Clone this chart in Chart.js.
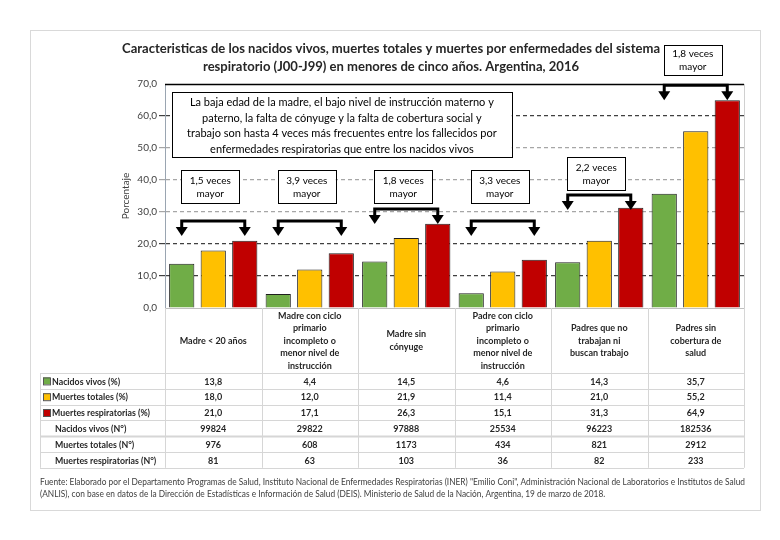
<!DOCTYPE html>
<html>
<head>
<meta charset="utf-8">
<script src="https://cdn.jsdelivr.net/npm/chart.js@4.4.1/dist/chart.umd.min.js"></script>
<style>
  html, body { margin: 0; padding: 0; background: #fff; }
  #wrap { width: 780px; height: 540px; }
</style>
</head>
<body>
<div id="wrap"><canvas id="chart" width="780" height="540"></canvas></div>
<script>
// categories (table header, multi-line)
const categories = [
    ['Madre < 20 años'],
    ['Madre con ciclo', 'primario', 'incompleto o', 'menor nivel de', 'instrucción'],
    ['Madre sin', 'cónyuge'],
    ['Padre con ciclo', 'primario', 'incompleto o', 'menor nivel de', 'instrucción'],
    ['Padres que no', 'trabajan ni', 'buscan trabajo'],
    ['Padres sin', 'cobertura de', 'salud']
];

// percentages
const nacidosPct = [13.8, 4.4, 14.5, 4.6, 14.3, 35.7];
const muertesPct = [18.0, 12.0, 21.9, 11.4, 21.0, 55.2];
const respPct = [21.0, 17.1, 26.3, 15.1, 31.3, 64.9];

// absolute numbers
const nacidosN = [99824, 29822, 97888, 25534, 96223, 182536];
const muertesN = [976, 608, 1173, 434, 821, 2912];
const respN = [81, 63, 103, 36, 82, 233];

const yTicks = [0, 10, 20, 30, 40, 50, 60, 70];

// "x veces mayor" labels, one per category
const ratios = ['1,5', '3,9', '1,8', '3,3', '2,2', '1,8'];

const titleLines = [
    'Caracteristicas de los nacidos vivos, muertes totales y muertes por enfermedades del sistema',
    'respiratorio (J00-J99) en menores de cinco años. Argentina, 2016'
];
const noteLines = [
    'La baja edad de la madre, el bajo nivel de instrucción materno y',
    'paterno, la falta de cónyuge y la falta de cobertura social y',
    'trabajo son hasta 4 veces más frecuentes entre los fallecidos por',
    'enfermedades respiratorias que entre los nacidos vivos'
];
const sourceLines = [
    'Fuente: Elaborado por el Departamento Programas de Salud, Instituto Nacional de Enfermedades Respiratorias (INER) "Emilio Coni", Administración Nacional de Laboratorios e Institutos de Salud',
    '(ANLIS), con base en datos de la Dirección de Estadísticas e Información de Salud (DEIS). Ministerio de Salud de la Nación, Argentina, 19 de marzo de 2018.'
];

const GREEN = '#70AD47', YELLOW = '#FFC000', RED = '#C00000';
const FONT = 'Lato, "Open Sans", sans-serif';

function fmt(v) {
    return v.toFixed(1).replace('.', ',');
}

// text squeezed horizontally by sx
function squish(ctx, text, x, y, sx, align) {
    ctx.save();
    ctx.translate(x, y);
    ctx.scale(sx, 1);
    ctx.textAlign = align || 'center';
    ctx.fillText(text, 0, 0);
    ctx.restore();
}

function box(ctx, x1, y1, x2, y2) {
    ctx.fillStyle = '#fff';
    ctx.fillRect(x1, y1, x2 - x1, y2 - y1);
    ctx.strokeStyle = '#000';
    ctx.lineWidth = 1;
    ctx.strokeRect(Math.round(x1) + 0.5, Math.round(y1) + 0.5, Math.round(x2 - x1), Math.round(y2 - y1));
}

function bracket(ctx, x1, x2, yLine, yTip) {
    ctx.strokeStyle = '#000';
    ctx.fillStyle = '#000';
    ctx.lineWidth = 3;
    ctx.beginPath();
    ctx.moveTo(x1, yTip - 6);
    ctx.lineTo(x1, yLine);
    ctx.lineTo(x2, yLine);
    ctx.lineTo(x2, yTip - 6);
    ctx.stroke();
    [x1, x2].forEach(x => {
        ctx.beginPath();
        ctx.moveTo(x - 6, yTip - 9);
        ctx.lineTo(x + 6, yTip - 9);
        ctx.lineTo(x, yTip);
        ctx.closePath();
        ctx.fill();
    });
}

const extras = {
    id: 'extras',
    beforeDatasetsDraw(chart) {
        const ctx = chart.ctx;
        const a = chart.chartArea;
        const y = chart.scales.y;
        ctx.save();
        // solid top line at 70
        ctx.strokeStyle = '#000';
        ctx.lineWidth = 1.5;
        ctx.beginPath();
        ctx.moveTo(a.left, Math.round(y.getPixelForValue(70)) + 0.5);
        ctx.lineTo(a.right, Math.round(y.getPixelForValue(70)) + 0.5);
        ctx.stroke();
        // right border
        ctx.strokeStyle = '#d0d0d0';
        ctx.lineWidth = 1;
        ctx.beginPath();
        ctx.moveTo(Math.round(a.right) + 0.5, a.top);
        ctx.lineTo(Math.round(a.right) + 0.5, a.bottom);
        ctx.stroke();
        ctx.restore();
    },
    afterDraw(chart) {
        const ctx = chart.ctx;
        const x = chart.scales.x;
        const y = chart.scales.y;
        const a = chart.chartArea;
        const half = (x.getPixelForValue(1) - x.getPixelForValue(0)) / 2;
        const meta = [0, 1, 2].map(i => chart.getDatasetMeta(i));
        ctx.save();

        // outer frame
        ctx.strokeStyle = '#d9d9d9';
        ctx.lineWidth = 1;
        ctx.strokeRect(30.5, 30.5, 730, 480);

        // title
        ctx.fillStyle = '#262626';
        ctx.font = 'bold 14px ' + FONT;
        ctx.textBaseline = 'middle';
        const sxT = Math.min(1, 538 / ctx.measureText(titleLines[0]).width);
        squish(ctx, titleLines[0], 391, 48, sxT);
        squish(ctx, titleLines[1], 391, 66, sxT);

        // big note box
        const nx1 = x.getPixelForValue(0) - half + 7;
        const nx2 = x.getPixelForValue(3) + 9;
        const ny1 = y.getPixelForValue(67.5), ny2 = y.getPixelForValue(47.2);
        box(ctx, nx1, ny1, nx2, ny2);
        ctx.fillStyle = '#000';
        ctx.font = '11px ' + FONT;
        const sxN = Math.min(1, 326 / ctx.measureText(noteLines[2]).width);
        noteLines.forEach((t, i) => squish(ctx, t, (nx1 + nx2) / 2, ny1 + 10.5 + i * 15.5, sxN));

        // brackets + ratio boxes
        const lineLevel = [27.2, 27.2, 30.9, 27.2, 35.3, 69.6];
        const boxTop = [43.1, 43.1, 43.1, 43.1, 47.2, 82.2];
        ratios.forEach((r, i) => {
            const xg = meta[0].data[i].x;
            const xr = meta[2].data[i].x;
            const yl = y.getPixelForValue(lineLevel[i]);
            bracket(ctx, xg, xr, yl, yl + 15);
            const cx = x.getPixelForValue(i) - 3;
            const by = y.getPixelForValue(boxTop[i]);
            const bh = i === 5 ? 30 : 33;
            box(ctx, cx - 29, by, cx + 29, by + bh);
            ctx.fillStyle = '#000';
            ctx.font = '10px ' + FONT;
            ctx.textAlign = 'center';
            ctx.fillText(r + ' veces', cx, by + bh / 2 - 6);
            ctx.fillText('mayor', cx, by + bh / 2 + 7);
        });

        // table
        const tLeft = 40;
        const tRight = a.right;
        const hdrBottom = 373;
        const rowH = 15.8;
        ctx.strokeStyle = '#d6d6d6';
        ctx.lineWidth = 1;
        // vertical separators
        for (let i = 0; i <= categories.length; i++) {
            const xx = Math.round(x.getPixelForValue(0) - half + i * 2 * half) + 0.5;
            ctx.beginPath();
            ctx.moveTo(xx, a.bottom);
            ctx.lineTo(xx, hdrBottom + rowH * 6);
            ctx.stroke();
        }
        ctx.beginPath();
        ctx.moveTo(tLeft + 0.5, hdrBottom);
        ctx.lineTo(tLeft + 0.5, hdrBottom + rowH * 6);
        ctx.stroke();
        for (let r = 0; r <= 6; r++) {
            const yy = Math.round(hdrBottom + r * rowH) + 0.5;
            ctx.lineWidth = r === 4 ? 2 : 1;
            ctx.beginPath();
            ctx.moveTo(tLeft, yy);
            ctx.lineTo(tRight, yy);
            ctx.stroke();
        }

        // header labels
        ctx.fillStyle = '#262626';
        ctx.font = 'bold 10px ' + FONT;
        ctx.textAlign = 'center';
        categories.forEach((lines, i) => {
            const cx = x.getPixelForValue(i);
            const y0 = 340.5 - (lines.length - 1) * 12.5 / 2;
            lines.forEach((t, k) => squish(ctx, t, cx, y0 + k * 12.5, 0.9));
        });

        // rows
        const rows = [
            {label: 'Nacidos vivos (%)', color: GREEN, vals: nacidosPct.map(fmt)},
            {label: 'Muertes totales (%)', color: YELLOW, vals: muertesPct.map(fmt)},
            {label: 'Muertes respiratorias (%)', color: RED, vals: respPct.map(fmt)},
            {label: 'Nacidos vivos (N°)', vals: nacidosN.map(String)},
            {label: 'Muertes totales (N°)', vals: muertesN.map(String)},
            {label: 'Muertes respiratorias (N°)', vals: respN.map(String)}
        ];
        rows.forEach((row, r) => {
            const cy = hdrBottom + r * rowH + rowH / 2 + 0.5;
            ctx.font = 'bold 10px ' + FONT;
            ctx.fillStyle = '#262626';
            if (row.color) {
                ctx.fillStyle = row.color;
                ctx.fillRect(43, cy - 4, 7, 7);
                ctx.strokeStyle = '#555';
                ctx.lineWidth = 1;
                ctx.strokeRect(43.5, cy - 4 + 0.5, 7, 7);
                ctx.fillStyle = '#262626';
                squish(ctx, row.label, 52, cy, 0.88, 'left');
            } else {
                squish(ctx, row.label, 55, cy, 0.88, 'left');
            }
            row.vals.forEach((v, i) => {
                squish(ctx, v, x.getPixelForValue(i), cy, 0.9);
            });
        });

        // source
        ctx.fillStyle = '#404040';
        ctx.font = '9px ' + FONT;
        const sxS = 705 / ctx.measureText(sourceLines[0]).width;
        squish(ctx, sourceLines[0], 40, 482, sxS, 'left');
        squish(ctx, sourceLines[1], 40, 494, sxS, 'left');

        ctx.restore();
    }
};

const ctx = document.getElementById('chart').getContext('2d');
const chart = new Chart(ctx, {
    type: 'bar',
    data: {
        labels: categories.map(c => c.join(' ')),
        datasets: [
            {label: 'Nacidos vivos (%)', data: nacidosPct, backgroundColor: GREEN},
            {label: 'Muertes totales (%)', data: muertesPct, backgroundColor: YELLOW},
            {label: 'Muertes respiratorias (%)', data: respPct, backgroundColor: RED}
        ].map(d => Object.assign(d, {
            borderColor: '#1f1f1f',
            borderWidth: 1,
            categoryPercentage: 0.98,
            barPercentage: 0.8
        }))
    },
    options: {
        responsive: false,
        animation: false,
        events: [],
        layout: {padding: {left: 120, top: 84, right: 36, bottom: 232}},
        plugins: {
            legend: {display: false},
            tooltip: {enabled: false}
        },
        scales: {
            x: {
                grid: {display: false},
                ticks: {display: false},
                border: {color: '#bfbfbf'},
                afterFit: s => { s.height = 0; }
            },
            y: {
                min: 0,
                max: 70,
                afterBuildTicks: s => { s.ticks = yTicks.map(v => ({value: v})); },
                afterFit: s => { s.width = 45; },
                ticks: {
                    callback: v => fmt(v),
                    color: '#404040',
                    font: {family: FONT, size: 10},
                    padding: 2
                },
                grid: {
                    color: c => {
                        const v = c.tick && c.tick.value;
                        if (v === 0 || v === 70) return 'rgba(0,0,0,0)';
                        return (v === 30 || v === 40 || v === 50) ? '#a6a6a6' : '#404040';
                    },
                    tickLength: 6,
                    lineWidth: 1.2
                },
                border: {color: '#9aa5b1', dash: [4, 3]},
                title: {
                    display: true,
                    text: 'Porcentaje',
                    color: '#404040',
                    font: {family: FONT, size: 10},
                    padding: {top: 0, bottom: 2}
                }
            }
        }
    },
    plugins: [extras]
});
</script>
</body>
</html>
